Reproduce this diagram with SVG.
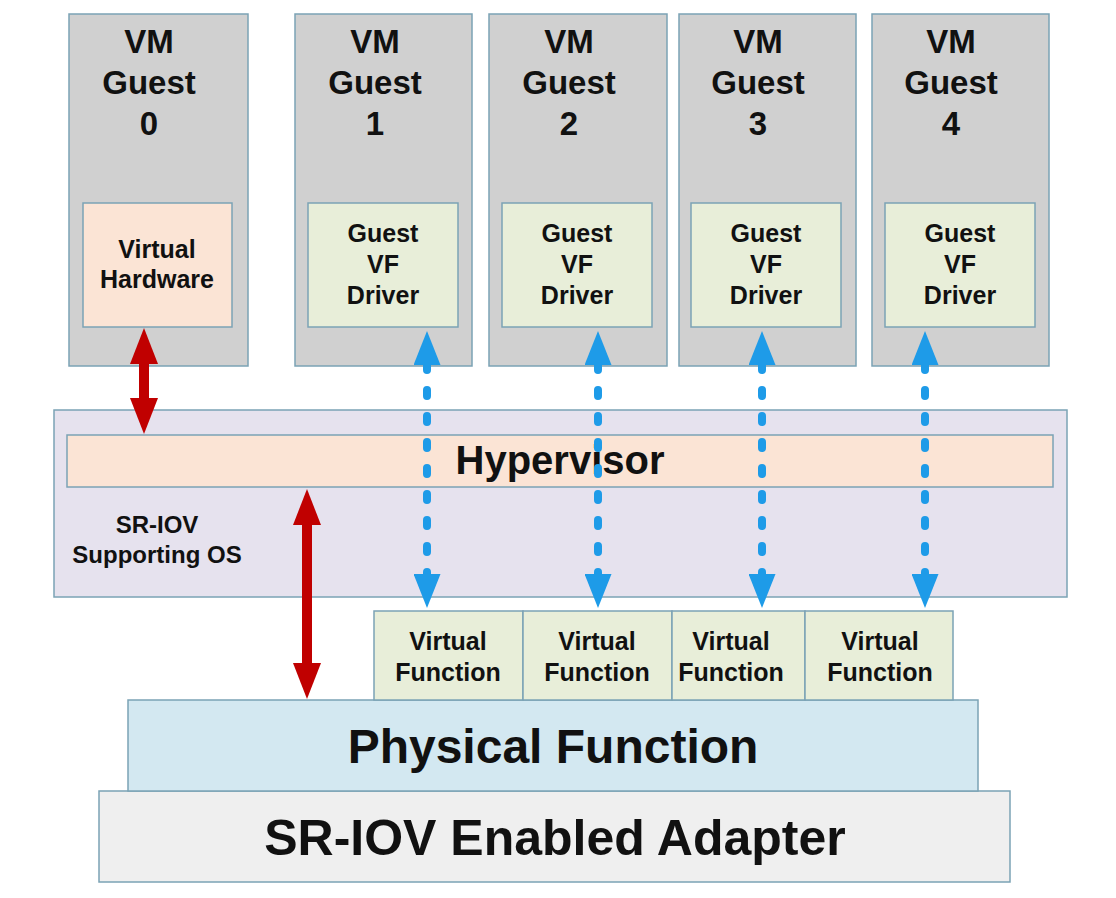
<svg xmlns="http://www.w3.org/2000/svg" width="1116" height="898" viewBox="0 0 1116 898">
<style>
.box{stroke:#7ba3b5;stroke-width:1.5}
.vm{fill:#d0d0d0}
.peach{fill:#fbe4d5}
.green{fill:#e8eed9}
.os{fill:#e6e2ee}
.pf{fill:#d3e8f1}
.ad{fill:#efefef}
text{font-family:"Liberation Sans",Arial,sans-serif;font-weight:bold;fill:#111;text-anchor:middle}
.t33{font-size:33px}
.t24{font-size:24px}
.t25{font-size:25px}
.red{stroke:#c00000;stroke-width:10;fill:none}
.blue{stroke:#1e9be8;stroke-width:8;fill:none;stroke-dasharray:6 20;stroke-linecap:round}
</style>
<defs>
<marker id="redHead" markerUnits="userSpaceOnUse" markerWidth="36" markerHeight="28" viewBox="0 0 36 28" refX="1" refY="14" orient="auto-start-reverse"><path d="M0,0 L36,14 L0,28 z" fill="#c00000"/></marker>
<marker id="blueHead" markerUnits="userSpaceOnUse" markerWidth="34" markerHeight="27" viewBox="0 0 34 27" refX="1" refY="13.5" orient="auto-start-reverse"><path d="M0,0 L34,13.5 L0,27 z" fill="#1e9be8"/></marker>
</defs>
<rect width="1116" height="898" fill="#ffffff"/>

<g id="os">
<rect class="box os" x="54" y="410" width="1013" height="187"/>
<text class="t24" x="157" y="533">SR-IOV</text>
<text class="t24" x="157" y="563">Supporting OS</text>
</g>
<g id="hypervisor">
<rect class="box peach" x="67" y="435" width="986" height="52"/>
<text x="560" y="474" style="font-size:40px">Hypervisor</text>
</g>

<g id="vm0">
<rect class="box vm" x="69" y="14" width="179" height="352"/>
<text class="t33" x="149" y="53">VM</text>
<text class="t33" x="149" y="94">Guest</text>
<text class="t33" x="149" y="135">0</text>
</g>
<g id="vhw">
<rect class="box peach" x="83" y="203" width="149" height="124"/>
<text class="t25" x="157" y="258">Virtual</text>
<text class="t25" x="157" y="288">Hardware</text>
</g>

<g id="vm1">
<rect class="box vm" x="295" y="14" width="177" height="352"/>
<text class="t33" x="375" y="53">VM</text>
<text class="t33" x="375" y="94">Guest</text>
<text class="t33" x="375" y="135">1</text>
</g>
<g id="drv1">
<rect class="box green" x="308" y="203" width="150" height="124"/>
<text class="t25" x="383" y="242">Guest</text>
<text class="t25" x="383" y="273">VF</text>
<text class="t25" x="383" y="304">Driver</text>
</g>

<g id="vm2">
<rect class="box vm" x="489" y="14" width="178" height="352"/>
<text class="t33" x="569" y="53">VM</text>
<text class="t33" x="569" y="94">Guest</text>
<text class="t33" x="569" y="135">2</text>
</g>
<g id="drv2">
<rect class="box green" x="502" y="203" width="150" height="124"/>
<text class="t25" x="577" y="242">Guest</text>
<text class="t25" x="577" y="273">VF</text>
<text class="t25" x="577" y="304">Driver</text>
</g>

<g id="vm3">
<rect class="box vm" x="679" y="14" width="177" height="352"/>
<text class="t33" x="758" y="53">VM</text>
<text class="t33" x="758" y="94">Guest</text>
<text class="t33" x="758" y="135">3</text>
</g>
<g id="drv3">
<rect class="box green" x="691" y="203" width="150" height="124"/>
<text class="t25" x="766" y="242">Guest</text>
<text class="t25" x="766" y="273">VF</text>
<text class="t25" x="766" y="304">Driver</text>
</g>

<g id="vm4">
<rect class="box vm" x="872" y="14" width="177" height="352"/>
<text class="t33" x="951" y="53">VM</text>
<text class="t33" x="951" y="94">Guest</text>
<text class="t33" x="951" y="135">4</text>
</g>
<g id="drv4">
<rect class="box green" x="885" y="203" width="150" height="124"/>
<text class="t25" x="960" y="242">Guest</text>
<text class="t25" x="960" y="273">VF</text>
<text class="t25" x="960" y="304">Driver</text>
</g>

<g id="adapter">
<rect class="box ad" x="99" y="791" width="911" height="91"/>
<text x="555" y="855" style="font-size:50px">SR-IOV Enabled Adapter</text>
</g>
<g id="pf">
<rect class="box pf" x="128" y="700" width="850" height="91"/>
<text x="553" y="763" style="font-size:48px">Physical Function</text>
</g>

<g id="vf1">
<rect class="box green" x="374" y="611" width="149" height="89"/>
<text class="t25" x="448" y="650">Virtual</text>
<text class="t25" x="448" y="681">Function</text>
</g>
<g id="vf2">
<rect class="box green" x="523" y="611" width="149" height="89"/>
<text class="t25" x="597" y="650">Virtual</text>
<text class="t25" x="597" y="681">Function</text>
</g>
<g id="vf3">
<rect class="box green" x="672" y="611" width="133" height="89"/>
<text class="t25" x="731" y="650">Virtual</text>
<text class="t25" x="731" y="681">Function</text>
</g>
<g id="vf4">
<rect class="box green" x="805" y="611" width="148" height="89"/>
<text class="t25" x="880" y="650">Virtual</text>
<text class="t25" x="880" y="681">Function</text>
</g>

<g id="connectors">
<line class="red" x1="144" y1="363" x2="144" y2="399" marker-start="url(#redHead)" marker-end="url(#redHead)"/>
<line class="red" x1="307" y1="524" x2="307" y2="664" marker-start="url(#redHead)" marker-end="url(#redHead)"/>
<line class="blue" x1="427" y1="364" x2="427" y2="575" marker-start="url(#blueHead)" marker-end="url(#blueHead)"/>
<line class="blue" x1="598" y1="364" x2="598" y2="575" marker-start="url(#blueHead)" marker-end="url(#blueHead)"/>
<line class="blue" x1="762" y1="364" x2="762" y2="575" marker-start="url(#blueHead)" marker-end="url(#blueHead)"/>
<line class="blue" x1="925" y1="364" x2="925" y2="575" marker-start="url(#blueHead)" marker-end="url(#blueHead)"/>
</g>
</svg>
